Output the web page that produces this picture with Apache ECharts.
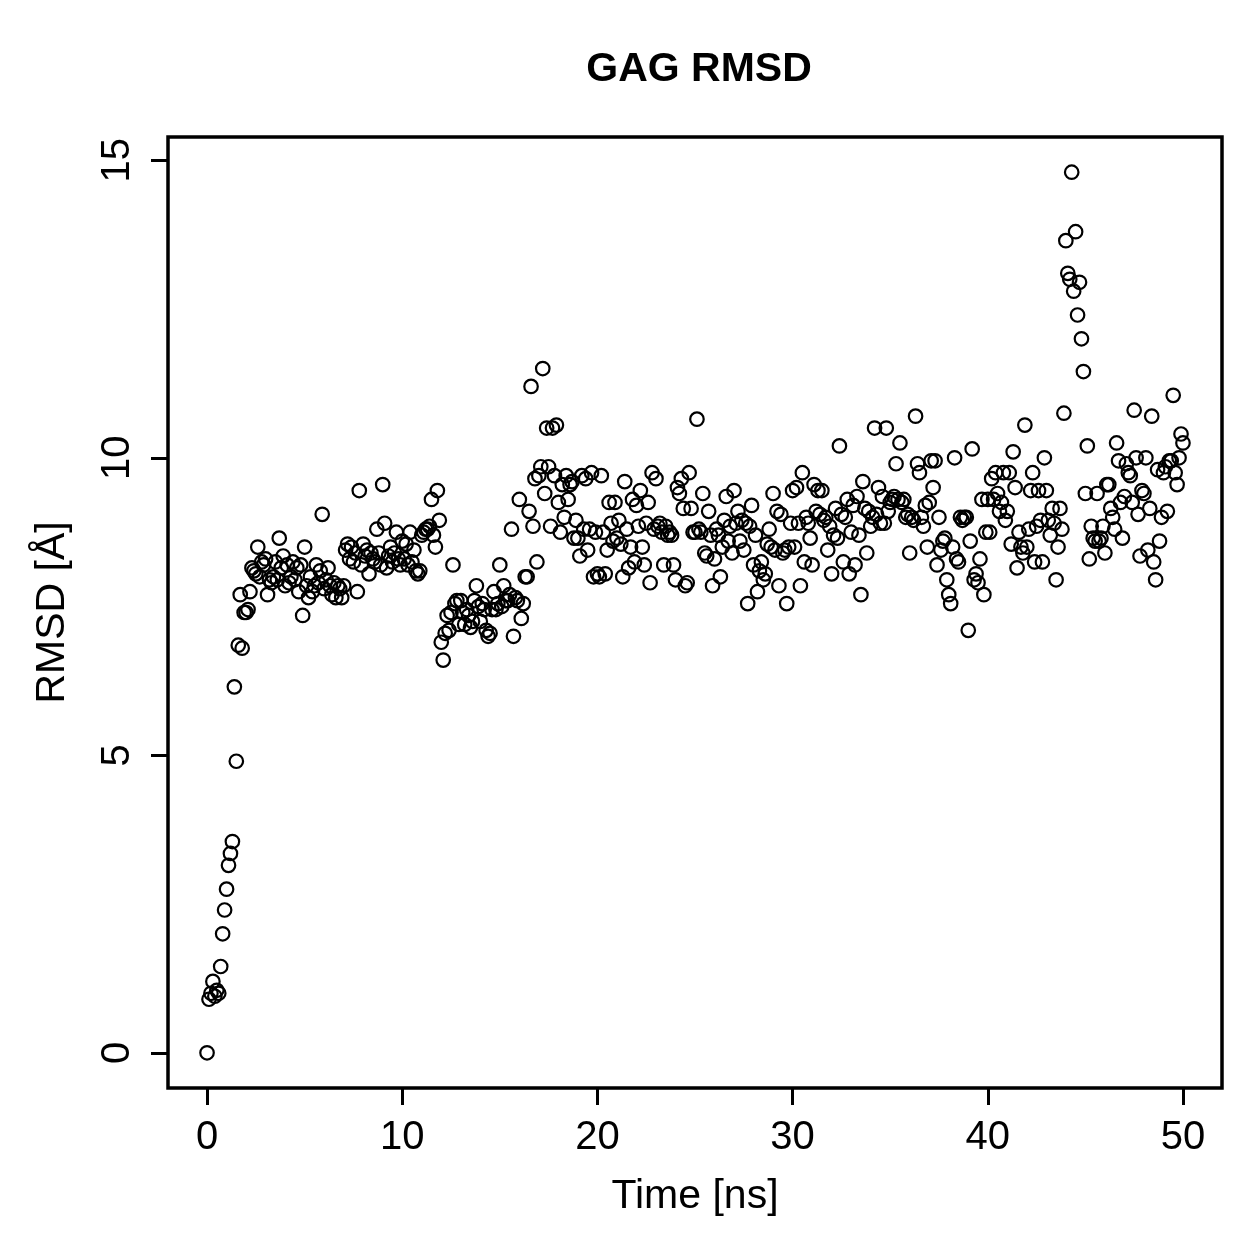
<!DOCTYPE html>
<html>
<head>
<meta charset="utf-8">
<title>GAG RMSD</title>
<script src="https://cdn.jsdelivr.net/npm/echarts@6/dist/echarts.min.js"></script>
<style>
  html, body { margin: 0; padding: 0; background: #fff; }
  #rmsd-chart { width: 1259px; height: 1259px; }
</style>
</head>
<body>
<div id="rmsd-chart"></div>
<script>
// RMSD of the GAG, one frame every 0.1 ns, split in 10 ns blocks
var timeStep = 0.1;

var rmsd0to10 = [
  0.0, 0.9, 1.0, 1.2, 0.95, 1.05, 1.0, 1.45, 2.0, 2.4,
  2.75, 3.15, 3.35, 3.55, 6.15, 4.9, 6.85, 7.7, 6.8, 7.4,
  7.4, 7.45, 7.75, 8.15, 8.1, 8.05, 8.5, 8.0, 8.25, 8.2,
  8.3, 7.7, 7.95, 7.9, 8.0, 8.25, 7.95, 8.65, 8.15, 8.35,
  7.85, 8.2, 7.9, 8.0, 8.25, 7.95, 8.15, 7.75, 8.2, 7.35,
  8.5, 7.85, 7.65, 8.0, 7.75, 7.85, 8.2, 7.9, 8.1, 9.05,
  7.8, 7.95, 8.15, 7.85, 7.7, 7.9, 7.65, 7.85, 7.8, 7.65,
  7.85, 8.45, 8.55, 8.3, 8.5, 8.25, 8.4, 7.75, 9.45, 8.2,
  8.55, 8.35, 8.45, 8.05, 8.4, 8.3, 8.25, 8.8, 8.4, 8.2,
  9.55, 8.9, 8.15, 8.35, 8.5, 8.25, 8.4, 8.75, 8.3, 8.2
];
var rmsd10to20 = [
  8.6, 8.3, 8.55, 8.2, 8.75, 8.25, 8.45, 8.1, 8.05, 8.1,
  8.7, 8.75, 8.8, 8.8, 8.85, 9.3, 8.7, 8.5, 9.45, 8.95,
  6.9, 6.6, 7.05, 7.35, 7.1, 7.4, 8.2, 7.55, 7.6, 7.2,
  7.6, 7.4, 7.2, 7.45, 7.35, 7.15, 7.25, 7.6, 7.85, 7.5,
  7.25, 7.55, 7.45, 7.1, 7.0, 7.05, 7.45, 7.75, 7.45, 7.55,
  8.2, 7.5, 7.85, 7.6, 7.6, 7.7, 8.8, 7.0, 7.65, 7.6,
  9.3, 7.3, 7.55, 8.0, 8.0, 9.1, 11.2, 8.85, 9.65, 8.25,
  9.7, 9.85, 11.5, 9.4, 10.5, 9.85, 8.85, 10.5, 9.7, 10.55,
  9.25, 8.75, 9.55, 9.0, 9.7, 9.3, 9.55, 9.6, 8.65, 8.95,
  8.65, 8.35, 9.7, 8.8, 9.65, 8.45, 8.8, 9.75, 8.0, 8.75
];
var rmsd20to30 = [
  8.05, 8.0, 9.7, 8.75, 8.05, 8.45, 9.25, 8.9, 8.6, 9.25,
  8.65, 8.95, 8.55, 8.0, 9.6, 8.8, 8.15, 8.5, 9.3, 8.25,
  9.2, 8.85, 9.45, 8.5, 8.2, 8.9, 9.25, 7.9, 9.75, 8.8,
  9.65, 8.85, 8.9, 8.75, 8.2, 8.85, 8.7, 8.75, 8.7, 8.2,
  7.95, 9.5, 9.4, 9.65, 9.15, 7.85, 7.9, 9.75, 9.15, 8.75,
  8.75, 10.65, 8.8, 8.75, 9.4, 8.4, 8.35, 9.1, 8.7, 7.85,
  8.3, 8.8, 8.7, 8.0, 8.5, 8.95, 9.35, 8.6, 8.85, 8.4,
  9.45, 8.9, 9.1, 8.6, 8.95, 8.45, 8.9, 7.55, 8.85, 9.2,
  8.2, 8.7, 7.75, 8.1, 8.25, 7.95, 8.05, 8.55, 8.8, 8.5,
  9.4, 8.45, 9.1, 7.85, 9.05, 8.4, 8.45, 7.55, 8.5, 8.9
];
var rmsd30to40 = [
  9.45, 8.5, 9.5, 8.9, 7.85, 9.75, 8.25, 9.0, 8.9, 8.65,
  8.2, 9.55, 9.1, 9.45, 9.05, 9.45, 8.95, 9.0, 8.45, 8.85,
  8.05, 8.7, 9.15, 8.65, 10.2, 9.05, 8.25, 9.0, 9.3, 8.05,
  8.75, 9.2, 8.2, 9.35, 8.7, 7.7, 9.6, 9.15, 8.4, 9.1,
  8.85, 9.0, 10.5, 9.05, 9.5, 8.9, 9.35, 8.9, 10.5, 9.1,
  9.25, 9.3, 9.35, 9.9, 9.3, 10.25, 9.25, 9.3, 9.0, 9.05,
  8.4, 9.0, 8.95, 10.7, 9.9, 9.75, 9.0, 8.85, 9.2, 8.5,
  9.25, 9.95, 9.5, 9.95, 8.2, 9.0, 8.45, 8.6, 8.65, 7.95,
  7.7, 7.55, 8.5, 10.0, 8.3, 8.25, 9.0, 8.95, 9.0, 9.0,
  7.1, 8.6, 10.15, 7.95, 8.05, 7.9, 8.3, 9.3, 7.7, 8.75
];
var rmsd40to50 = [
  9.3, 8.75, 9.65, 9.3, 9.75, 9.4, 9.1, 9.25, 9.75, 8.95,
  9.1, 9.75, 8.55, 10.1, 9.5, 8.15, 8.75, 8.5, 8.4, 10.55,
  8.5, 8.8, 9.45, 9.75, 8.25, 8.85, 9.45, 8.95, 8.25, 10.0,
  9.45, 8.95, 8.7, 9.15, 8.9, 7.95, 8.5, 9.15, 8.8, 10.75,
  13.65, 13.1, 13.0, 14.8, 12.8, 13.8, 12.4, 12.95, 12.0, 11.45,
  9.4, 10.2, 8.3, 8.85, 8.65, 8.6, 9.4, 8.6, 8.65, 8.85,
  8.4, 9.55, 9.55, 9.15, 9.0, 8.8, 10.25, 9.95, 9.25, 8.65,
  9.35, 9.9, 9.75, 9.7, 9.25, 10.8, 10.0, 9.05, 8.35, 9.45,
  9.4, 10.0, 8.45, 9.15, 10.7, 8.25, 7.95, 9.8, 8.6, 9.0,
  9.75, 9.85, 9.1, 9.95, 9.95, 11.05, 9.75, 9.55, 10.0, 10.4
];
var rmsdLast = [10.25];

var xTicks = [0, 10, 20, 30, 40, 50];
var yTicks = [0, 5, 10, 15];

var rmsd = rmsd0to10.concat(rmsd10to20, rmsd20to30, rmsd30to40, rmsd40to50, rmsdLast);
var points = rmsd.map(function(v, i) {
  return [Math.round(i * timeStep * 10) / 10, v];
});

var myChart = echarts.init(document.getElementById('rmsd-chart'));
var font = 'Liberation Sans, Arial, Helvetica, sans-serif';

myChart.setOption({
  animation: false,
  backgroundColor: '#fff',
  title: {
    text: 'GAG RMSD',
    left: 694,
    textAlign: 'center',
    top: 44,
    textStyle: { fontFamily: font, fontSize: 41, fontWeight: 'bold', color: '#000' }
  },
  grid: {
    left: 168, top: 137, width: 1054, height: 951,
    show: true, borderColor: '#000', borderWidth: 3.5, backgroundColor: 'transparent'
  },
  xAxis: {
    type: 'value',
    min: -2, max: 52,
    name: 'Time [ns]',
    nameLocation: 'middle',
    nameGap: 88,
    nameTextStyle: { fontFamily: font, fontSize: 41, color: '#000' },
    axisLine: { show: false, onZero: false },
    splitLine: { show: false },
    axisTick: { show: true, inside: false, customValues: xTicks, length: 17, lineStyle: { color: '#000', width: 3 } },
    axisLabel: { customValues: xTicks, margin: 30, fontFamily: font, fontSize: 40, color: '#000' }
  },
  yAxis: {
    type: 'value',
    min: -0.592, max: 15.392,
    name: 'RMSD [Å]',
    nameLocation: 'middle',
    nameRotate: 90,
    nameGap: 95,
    nameTextStyle: { fontFamily: font, fontSize: 41, color: '#000' },
    axisLine: { show: false, onZero: false },
    splitLine: { show: false },
    axisTick: { show: true, inside: false, customValues: yTicks, length: 17, lineStyle: { color: '#000', width: 3 } },
    axisLabel: { customValues: yTicks, rotate: 90, margin: 30, fontFamily: font, fontSize: 40, color: '#000' }
  },
  series: [
    {
      name: 'RMSD',
      type: 'scatter',
      data: points,
      symbol: 'circle',
      symbolSize: 13.5,
      itemStyle: { color: 'rgba(0,0,0,0)', borderColor: '#000', borderWidth: 2.2, opacity: 1 }
    }
  ]
});
</script>
</body>
</html>
